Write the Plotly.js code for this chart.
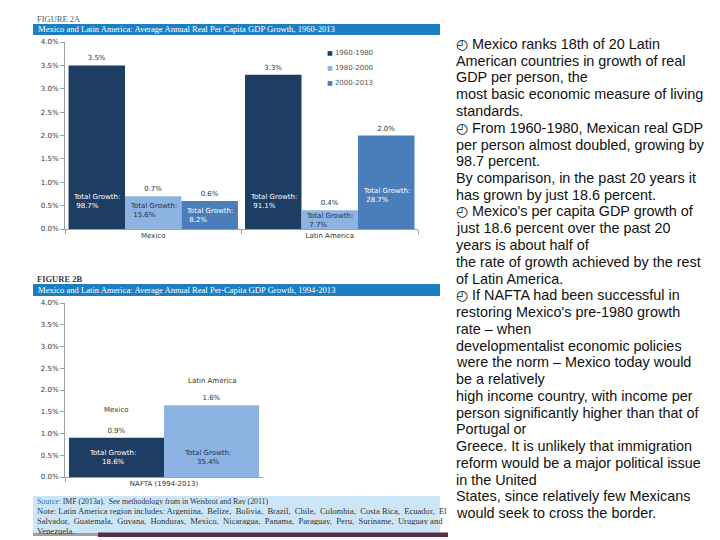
<!DOCTYPE html>
<html><head><meta charset="utf-8">
<script src="https://cdn.plot.ly/plotly-3.0.1.min.js"></script>
<style>html,body{margin:0;padding:0;background:#fff}</style>
</head><body><div id="chart" style="width:720px;height:540px"></div>
<script>
// ---------- Figure 2A data ----------
const categoriesA = ['Mexico', 'Latin America'];
const periodsA = ['1960-1980', '1980-2000', '2000-2013'];
const growth1960_1980 = [3.5, 3.3];
const growth1980_2000 = [0.7, 0.4];
const growth2000_2013 = [0.6, 2.0];
const label1960_1980 = ['3.5%', '3.3%'];
const label1980_2000 = ['0.7%', '0.4%'];
const label2000_2013 = ['0.6%', '2.0%'];
const total1960_1980 = ['98.7%', '91.1%'];
const total1980_2000 = ['15.6%', '7.7%'];
const total2000_2013 = ['8.2%', '28.7%'];

// ---------- Figure 2B data ----------
const categoriesB = ['NAFTA (1994-2013)'];
const regionsB = ['Mexico', 'Latin America'];
const naftaGrowth = [0.9, 1.65];
const naftaLabels = ['0.9%', '1.6%'];
const naftaTotals = ['18.6%', '35.4%'];

// ---------- Text ----------
const titleA = 'Mexico and Latin America: Average Annual Real Per Capita GDP Growth, 1960-2013';
const titleB = 'Mexico and Latin America: Average Annual Real Per-Capita GDP Growth, 1994-2013';
const sourceLines = [
  '<span style="color:#3a6ea5">Source:</span> IMF (2013a).  See methodology from in Weisbrot and Ray (2011)',
  'Note: Latin America region includes: Argentina,  Belize,  Bolivia,  Brazil,  Chile,  Colombia,  Costa Rica,  Ecuador,  El',
  'Salvador,  Guatemala,  Guyana,  Honduras,  Mexico,  Nicaragua,  Panama,  Paraguay,  Peru,  Suriname,  Uruguay and',
  'Venezuela.'
];
const B = '\u25F4 ';
const bodyLines = [
  B + 'Mexico ranks 18th of 20 Latin',
  'American countries in growth of real',
  'GDP per person, the',
  'most basic economic measure of living',
  'standards.',
  B + 'From 1960-1980, Mexican real GDP',
  'per person almost doubled, growing by',
  '98.7 percent.',
  'By comparison, in the past 20 years it',
  'has grown by just 18.6 percent.',
  B + "Mexico's per capita GDP growth of",
  'just 18.6 percent over the past 20',
  'years is about half of',
  'the rate of growth achieved by the rest',
  'of Latin America.',
  B + 'If NAFTA had been successful in',
  "restoring Mexico's pre-1980 growth",
  'rate \u2013 when',
  'developmentalist economic policies',
  'were the norm \u2013 Mexico today would',
  'be a relatively',
  'high income country, with income per',
  'person significantly higher than that of',
  'Portugal or',
  'Greece. It is unlikely that immigration',
  'reform would be a major political issue',
  'in the United',
  'States, since relatively few Mexicans',
  'would seek to cross the border.'
];

// ---------- Styles ----------
const colors = ['#1e3d63', '#8db3e2', '#4a7ebb'];
const insideText = ['#ffffff', '#1e3050', '#ffffff'];
const chartFont = 'DejaVu Sans, Verdana, sans-serif';
const serif = 'Liberation Serif, Times New Roman, serif';
const W = 720, H = 540;
const px = x => x / W, py = y => 1 - y / H;
const barW = (1 - 0.04) / 3;
const totalYA = [[0.58, 0.58], [0.40, 0.18], [0.29, 0.71]];
const totalYB = [0.45, 0.44];
const nameShiftB = [22, 18];
const sourceY = [501, 511, 521, 530.5];

const seriesA = [growth1960_1980, growth1980_2000, growth2000_2013];
const labelsA = [label1960_1980, label1980_2000, label2000_2013];
const totalsA = [total1960_1980, total1980_2000, total2000_2013];

const traces = [];
seriesA.forEach((vals, i) => {
  traces.push({
    type: 'bar', x: categoriesA, y: vals, name: periodsA[i],
    xaxis: 'x', yaxis: 'y',
    marker: {color: colors[i]},
    text: labelsA[i], textposition: 'outside', cliponaxis: false,
    textfont: {family: chartFont, size: 7, color: '#333'},
    hoverinfo: 'skip', showlegend: false
  });
});
regionsB.forEach((r, i) => {
  traces.push({
    type: 'bar', x: categoriesB, y: [naftaGrowth[i]], name: r,
    xaxis: 'x2', yaxis: 'y2',
    marker: {color: colors[i]},
    text: [naftaLabels[i]], textposition: 'outside', cliponaxis: false,
    textfont: {family: chartFont, size: 7, color: '#333'},
    hoverinfo: 'skip', showlegend: false
  });
});

const annotations = [];
const shapes = [];

// Total growth labels, figure 2A
totalsA.forEach((arr, i) => {
  arr.forEach((t, j) => {
    annotations.push({
      xref: 'x', yref: 'y', x: j + (i - 1) * barW, y: totalYA[i][j],
      text: 'Total Growth:<br> ' + t, showarrow: false, align: 'left',
      font: {family: chartFont, size: 7, color: insideText[i]}
    });
  });
});
// Total growth + region names, figure 2B
regionsB.forEach((r, i) => {
  const xo = (i - 0.5) * ((1 - 0.04) / 2);
  annotations.push({
    xref: 'x2', yref: 'y2', x: xo - 0.02, y: totalYB[i],
    text: 'Total Growth:<br>' + naftaTotals[i], showarrow: false, align: 'center',
    font: {family: chartFont, size: 7, color: insideText[i]}
  });
  annotations.push({
    xref: 'x2', yref: 'y2', x: xo, y: naftaGrowth[i], yanchor: 'bottom', yshift: nameShiftB[i],
    text: r, showarrow: false,
    font: {family: chartFont, size: 7, color: '#333'}
  });
});
// Legend figure 2A
periodsA.forEach((p, i) => {
  annotations.push({
    xref: 'paper', yref: 'paper', x: px(325), y: py(53 + i * 15), xanchor: 'left', yanchor: 'middle',
    text: '<span style="color:' + colors[i] + ';font-size:6px">\u25A0</span> ' + p, showarrow: false,
    font: {family: chartFont, size: 7, color: '#555'}
  });
});
// Figure labels and headers
[[19, 'FIGURE 2A', '#4b5b6e', 24, 35, titleA], [279, '<b>FIGURE 2B</b>', '#3a3a3a', 284, 296, titleB]].forEach(f => {
  annotations.push({xref: 'paper', yref: 'paper', x: px(35), y: py(f[0]), xanchor: 'left', yanchor: 'middle',
    text: f[1], showarrow: false, font: {family: serif, size: 8.5, color: f[2]}});
  shapes.push({type: 'rect', xref: 'paper', yref: 'paper', x0: px(33), x1: px(440), y0: py(f[4]), y1: py(f[3]),
    fillcolor: '#1c7fc3', line: {width: 0}, layer: 'below'});
  annotations.push({xref: 'paper', yref: 'paper', x: px(36), y: py((f[3] + f[4]) / 2), xanchor: 'left', yanchor: 'middle',
    text: f[5], showarrow: false, font: {family: serif, size: 8.6, color: '#ffffff'}});
});
// Source box
shapes.push({type: 'rect', xref: 'paper', yref: 'paper', x0: px(33), x1: px(440), y0: py(533), y1: py(496),
  fillcolor: '#cde6f7', line: {width: 0}, layer: 'below'});
sourceLines.forEach((s, i) => {
  annotations.push({xref: 'paper', yref: 'paper', x: px(35), y: py(sourceY[i]), xanchor: 'left', yanchor: 'middle',
    height: 8, valign: 'middle',
    text: s, showarrow: false, font: {family: serif, size: i === 0 ? 7.8 : 8.6, color: '#333'}});
});
shapes.push({type: 'rect', xref: 'paper', yref: 'paper', x0: px(33), x1: px(98), y0: py(536), y1: py(533),
  fillcolor: '#a0a0a0', line: {width: 0}});
shapes.push({type: 'rect', xref: 'paper', yref: 'paper', x0: px(98), x1: px(448), y0: py(537), y1: py(532.5),
  fillcolor: '#5a2c47', line: {width: 0}});
// Body text
bodyLines.forEach((s, i) => {
  annotations.push({xref: 'paper', yref: 'paper', x: px(454), y: py(44 + i * 16.75), xanchor: 'left', yanchor: 'middle',
    height: 16, valign: 'middle',
    text: s, showarrow: false, font: {family: 'Liberation Sans, Arial, sans-serif', size: 14.4, color: '#111'}});
});

const xCommon = {type: 'category', showline: true, linecolor: '#a0a0a0', linewidth: 1, ticks: 'outside',
  tickson: 'boundaries', ticklen: 4, tickcolor: '#a0a0a0', showgrid: false, zeroline: false,
  tickfont: {family: chartFont, size: 7, color: '#333'}, fixedrange: true};
const yCommon = {range: [0, 4], dtick: 0.5, tickformat: '.1f', ticksuffix: '%', showline: true, linecolor: '#a0a0a0',
  ticks: 'outside', ticklen: 4, tickcolor: '#a0a0a0', showgrid: false, zeroline: false,
  tickfont: {family: chartFont, size: 7, color: '#333'}, fixedrange: true};

const layout = {
  width: W, height: H, margin: {l: 0, r: 0, t: 0, b: 0},
  paper_bgcolor: '#fff', plot_bgcolor: 'rgba(0,0,0,0)',
  barmode: 'group', bargap: 0.04, bargroupgap: 0,
  showlegend: false,
  xaxis: Object.assign({}, xCommon, {domain: [px(65), px(418)], anchor: 'y'}),
  yaxis: Object.assign({}, yCommon, {domain: [py(229), py(42)], anchor: 'x'}),
  xaxis2: Object.assign({}, xCommon, {domain: [px(65), px(263)], anchor: 'y2'}),
  yaxis2: Object.assign({}, yCommon, {domain: [py(477), py(303)], anchor: 'x2'}),
  annotations: annotations, shapes: shapes
};
Plotly.newPlot('chart', traces, layout, {displayModeBar: false, staticPlot: true});
</script></body></html>
